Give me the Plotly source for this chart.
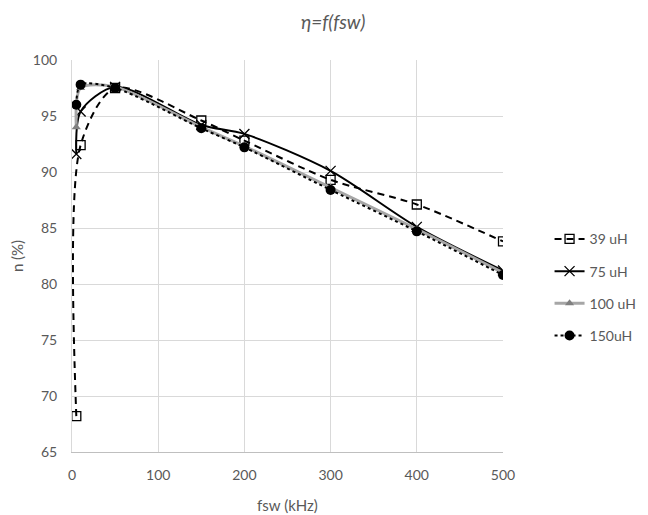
import plotly.graph_objects as go

fsw = [5, 10, 50, 150, 200, 300, 400, 500]
eta_39uH = [68.2, 92.4, 97.5, 94.6, 92.8, 89.3, 87.1, 83.8]
eta_75uH = [91.6, 95.4, 97.6, 94.2, 93.4, 90.1, 85.1, 81.2]
eta_100uH = [94.0, 97.5, 97.6, 94.0, 92.3, 88.6, 84.9, 81.0]
eta_150uH = [96.0, 97.8, 97.5, 93.9, 92.2, 88.4, 84.7, 80.8]

x_ticks = [0, 100, 200, 300, 400, 500]
y_ticks = [65, 70, 75, 80, 85, 90, 95, 100]

FONT = "Lato, 'Open Sans', sans-serif"
GREY_TXT = "#595959"

fig = go.Figure()

fig.add_trace(go.Scatter(
    x=fsw, y=eta_39uH, name="39 uH", mode="lines+markers",
    line=dict(color="black", width=2, dash="7px,5px", shape="spline", smoothing=0.8),
    marker=dict(symbol="square-open", size=9, color="black", line=dict(width=1.3)),
    legendgroup="a",
))
fig.add_trace(go.Scatter(
    x=fsw, y=eta_75uH, name="75 uH", mode="lines+markers",
    line=dict(color="black", width=2, shape="spline", smoothing=0.8),
    marker=dict(symbol="x-thin-open", size=10, color="black", line=dict(width=1.3, color="black")),
    legendgroup="b",
))
fig.add_trace(go.Scatter(
    x=fsw, y=eta_100uH, name="100 uH", mode="lines+markers",
    line=dict(color="#A6A6A6", width=3, shape="spline", smoothing=0.8),
    marker=dict(symbol="triangle-up", size=8, color="#808080"),
    legendgroup="c",
))
fig.add_trace(go.Scatter(
    x=fsw, y=eta_150uH, name="150uH", mode="lines+markers",
    line=dict(color="black", width=2, dash="dot", shape="spline", smoothing=0.8),
    marker=dict(symbol="circle", size=10, color="black"),
    legendgroup="d",
))

fig.update_layout(
    width=640, height=507,
    margin=dict(l=64, r=145, t=52, b=63, autoexpand=False),
    paper_bgcolor="white", plot_bgcolor="white",
    font=dict(family=FONT, size=14, color=GREY_TXT),
    title=dict(text="<i>η=f(fsw)</i>", x=0.508, xref="container", xanchor="center",
               y=0.972, yref="container", yanchor="middle",
               font=dict(family=FONT, size=19, color=GREY_TXT)),
    legend=dict(x=1.108, xanchor="left", y=0.42, yanchor="middle",
                traceorder="grouped", tracegroupgap=11,
                font=dict(family=FONT, size=14, color=GREY_TXT),
                bgcolor="rgba(0,0,0,0)", borderwidth=0),
    showlegend=True,
)

fig.update_xaxes(
    range=[0, 500], tickvals=x_ticks, ticktext=[str(v) for v in x_ticks],
    showgrid=True, gridcolor="#D9D9D9", gridwidth=1,
    showline=True, linecolor="#BFBFBF", linewidth=1,
    zeroline=False, ticks="", ticklabelstandoff=10, automargin=False,
    title=dict(text="fsw (kHz)", standoff=18, font=dict(family=FONT, size=15, color=GREY_TXT)),
)
fig.update_yaxes(
    range=[65, 100], tickvals=y_ticks, ticktext=[str(v) for v in y_ticks],
    showgrid=True, gridcolor="#D9D9D9", gridwidth=1,
    showline=True, linecolor="#D9D9D9", linewidth=1,
    zeroline=False, ticks="", ticklabelstandoff=11, automargin=False,
    title=dict(text="n (%)", standoff=11, font=dict(family=FONT, size=15, color=GREY_TXT)),
)

fig.write_html("out.html")
